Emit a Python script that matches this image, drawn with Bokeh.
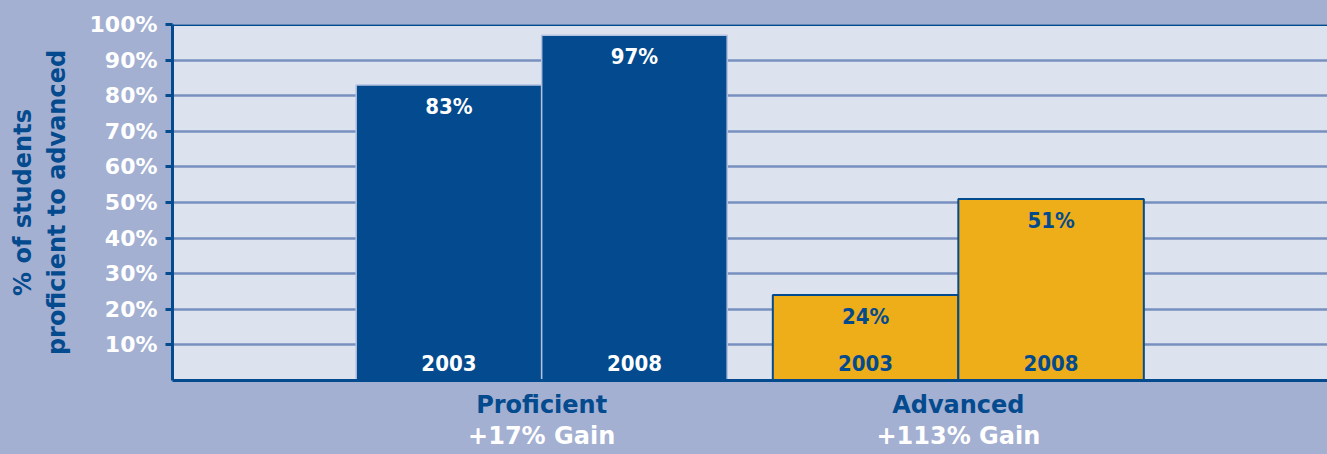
from bokeh.plotting import figure
from bokeh.models import (FactorRange, CategoricalAxis, ColumnDataSource, FixedTicker,
                          PrintfTickFormatter, Span)
from bokeh.core.properties import value
from bokeh.embed import file_html
from bokeh.resources import INLINE

# ---- data ----
groups = ["Proficient", "Advanced"]
years = ["2003", "2008"]
proficient = [83, 97]
advanced = [24, 51]
gains = ["+17% Gain", "+113% Gain"]
y_ticks = [10, 20, 30, 40, 50, 60, 70, 80, 90, 100]

# ---- style ----
DARK = "#044a8e"
GOLD = "#edae1a"
OUTER = "#a3b0d2"
INNER = "#dce2ee"
GRID = "#7890c0"
HEAD_FONT = "DejaVu Sans"
COND_FONT = value("DejaVu Sans Condensed")

factors = [(g, y) for g in groups for y in years]
vals = proficient + advanced
fills = [DARK, DARK, GOLD, GOLD]
lines = ["#b4c2df", "#b4c2df", DARK, DARK]
lws = [1.5, 1.5, 2, 2]
txt = ["#ffffff", "#ffffff", DARK, DARK]
src = ColumnDataSource(dict(x=factors, v=vals, fill=fills, line=lines, lw=lws,
                            pct=[f"{v}%" for v in vals], year=years * 2, tc=txt))

x_range = FactorRange(*factors, factor_padding=0.0, group_padding=0.246,
                      range_padding=0.99, range_padding_units="absolute")

p = figure(x_range=x_range, y_range=(0, 100), width=1327, height=454,
           output_backend="svg", toolbar_location=None,
           x_axis_location=None, y_axis_location="left",
           min_border_left=172, min_border_right=0, min_border_top=24, min_border_bottom=74)
p.background_fill_color = INNER
p.border_fill_color = OUTER
p.outline_line_color = None

p.extra_x_ranges = {
    "grp": FactorRange(*groups, factor_padding=1.246,
                       range_padding=1.49, range_padding_units="absolute"),
    "gain": FactorRange(*gains, factor_padding=1.246,
                        range_padding=1.49, range_padding_units="absolute"),
}

# grid
p.xgrid.visible = False
p.ygrid.ticker = FixedTicker(ticks=y_ticks)
p.ygrid.grid_line_color = GRID
p.ygrid.grid_line_width = 2.5

# y axis
ya = p.yaxis[0]
ya.ticker = FixedTicker(ticks=y_ticks)
ya.formatter = PrintfTickFormatter(format="%d%%")
ya.axis_line_color = DARK
ya.axis_line_width = 3
ya.major_tick_line_color = DARK
ya.major_tick_line_width = 3
ya.major_tick_out = 7
ya.major_tick_in = 0
ya.minor_tick_line_color = None
ya.major_label_text_color = "#ffffff"
ya.major_label_text_font = HEAD_FONT
ya.major_label_text_font_style = "bold"
ya.major_label_text_font_size = "22px"
ya.major_label_standoff = 8
ya.axis_label = "% of students\nproficient to advanced"
ya.axis_label_text_color = DARK
ya.axis_label_text_font = HEAD_FONT
ya.axis_label_text_font_style = "bold"
ya.axis_label_text_font_size = "24px"
ya.axis_label_standoff = 16

# bars
p.vbar(x="x", top="v", width=1.0, source=src, fill_color="fill",
       line_color="line", line_width="lw")

p.text(x="x", y="v", text="pct", source=src, text_color="tc", text_align="center",
       text_baseline="top", y_offset=9, text_font=COND_FONT, text_font_style="bold",
       text_font_size="22px")
p.text(x="x", y=0, text="year", source=src, text_color="tc", text_align="center",
       text_baseline="bottom", y_offset=-10, text_font=COND_FONT, text_font_style="bold",
       text_font_size="22px")

# top line
p.add_layout(Span(location=100, dimension="width", line_color=DARK, line_width=3))

# category axes below
ax1 = CategoricalAxis(x_range_name="grp")
ax1.axis_line_color = DARK
ax1.axis_line_width = 3
ax1.major_tick_line_color = None
ax1.minor_tick_line_color = None
ax1.major_tick_out = 0
ax1.major_tick_in = 0
ax1.axis_label_standoff = 0
ax1.major_label_text_color = DARK
ax1.major_label_text_font = HEAD_FONT
ax1.major_label_text_font_style = "bold"
ax1.major_label_text_font_size = "24px"
ax1.major_label_standoff = 10

ax2 = CategoricalAxis(x_range_name="gain")
ax2.axis_line_color = None
ax2.major_tick_line_color = None
ax2.minor_tick_line_color = None
ax2.major_tick_out = 0
ax2.major_tick_in = 0
ax2.axis_label_standoff = 0
ax2.major_label_text_color = "#ffffff"
ax2.major_label_text_font = HEAD_FONT
ax2.major_label_text_font_style = "bold"
ax2.major_label_text_font_size = "24px"
ax2.major_label_standoff = 0

p.add_layout(ax1, "below")
p.add_layout(ax2, "below")

html = file_html(p, INLINE)
html = html.replace("<head>", "<head><style>body{background:%s;}</style>" % OUTER, 1)
open("out.html", "w").write(html)
